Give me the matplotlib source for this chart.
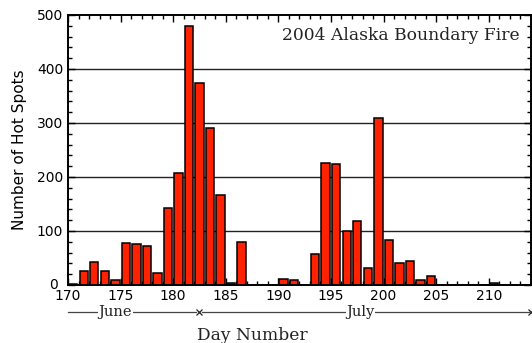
import numpy as np
import matplotlib.pyplot as plt
from matplotlib.ticker import MultipleLocator, FuncFormatter
import matplotlib.transforms as mtransforms

# daily hot spot counts, days 170-213
days = np.arange(170, 214)
hot_spots = [2, 26, 42, 26, 10, 78, 76, 73, 22, 142,
             207, 479, 374, 290, 167, 4, 79, 0, 0, 0,
             12, 9, 0, 57, 225, 224, 100, 119, 32, 309,
             83, 40, 44, 9, 17, 0, 0, 0, 0, 0,
             3, 0, 0, 0]

fig = plt.figure(figsize=(5.32, 3.43), dpi=100)
ax = fig.add_axes([0.1278, 0.1691, 0.870, 0.7872])

for y in [100, 200, 300, 400]:
    ax.axhline(y, color='#222222', lw=1.0, zorder=0)

ax.bar(days + 0.5, hot_spots, width=0.8, color='#ff2200',
       edgecolor='black', linewidth=1.1, zorder=2)

ax.set_xlim(170, 214)
ax.set_ylim(0, 500)
ax.xaxis.set_major_locator(MultipleLocator(5))
ax.xaxis.set_minor_locator(MultipleLocator(1))
ax.yaxis.set_major_locator(MultipleLocator(100))
ax.yaxis.set_minor_locator(MultipleLocator(20))
# the zero label is placed by hand below, a little left of the others
ax.yaxis.set_major_formatter(FuncFormatter(lambda v, p: '' if v == 0 else f'{v:.0f}'))
ax.tick_params(which='both', direction='in', top=True, right=True,
               labelsize=10, width=1, color='black')
ax.tick_params(which='major', length=5)
ax.tick_params(which='minor', length=3)
ax.tick_params(axis='x', pad=3)
for sp in ax.spines.values():
    sp.set_linewidth(1.4)

ax.text(-0.022, 0, '0', transform=ax.transAxes, ha='right', va='center',
        fontsize=10)

ax.set_ylabel('Number of Hot Spots', fontsize=11, labelpad=7)
ax.text(0.975, 0.925, '2004 Alaska Boundary Fire', transform=ax.transAxes,
        ha='right', va='center', family='DejaVu Serif', fontsize=12.3,
        color='#222222')

# month strip under the day axis
trans = mtransforms.blended_transform_factory(ax.transData, fig.transFigure)
yline = 1 - 312 / 343
ax.plot([170, 182.2], [yline, yline], color='#444444', lw=0.9,
        transform=trans, clip_on=False)
ax.plot([182.75, 213.8], [yline, yline], color='#444444', lw=0.9,
        transform=trans, clip_on=False)
ax.plot([182.45, 214], [yline, yline], ls='none', marker='x', ms=4,
        mew=0.9, color='#222222', transform=trans, clip_on=False)
month_font = dict(family='DejaVu Serif', fontsize=10.5, color='#222222',
                  ha='center', va='center', transform=trans,
                  bbox=dict(facecolor='white', edgecolor='none', pad=0.5))
ax.text(174.5, yline, 'June', **month_font)
ax.text(197.8, yline, 'July', **month_font)

fig.text(252 / 532, 1 - 336 / 343, 'Day Number', family='DejaVu Serif',
         fontsize=12.3, ha='center', va='center', color='#222222')

fig.savefig('out.png', dpi=100)
